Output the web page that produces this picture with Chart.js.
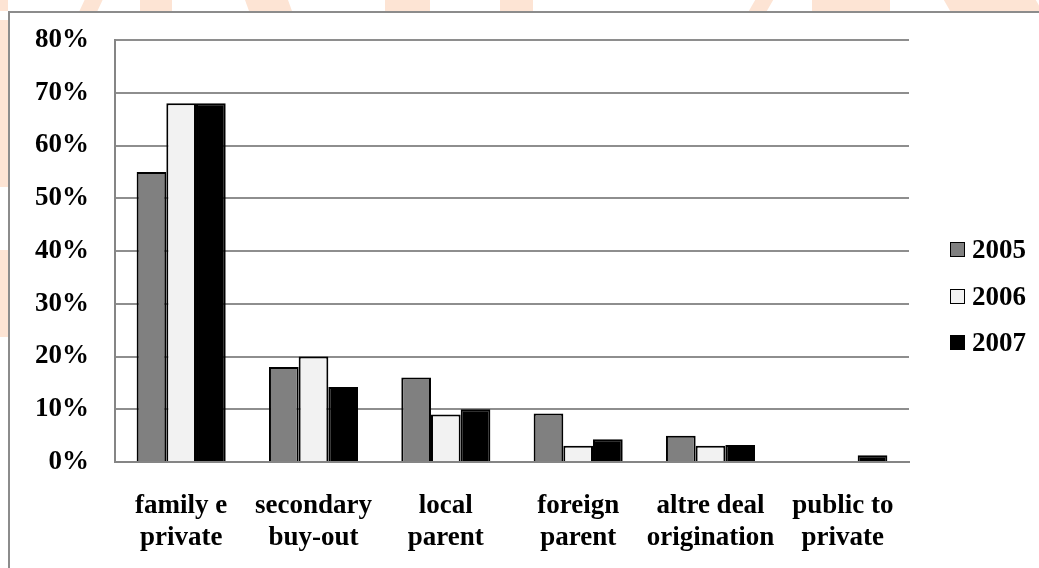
<!DOCTYPE html>
<html>
<head>
<meta charset="utf-8">
<script src="https://cdn.jsdelivr.net/npm/chart.js@4.4.1/dist/chart.umd.min.js"></script>
<style>
  html, body { margin: 0; padding: 0; width: 1039px; height: 568px; overflow: hidden; background: #fff; position: relative; }
  .wm { position: absolute; background: #fde4d4; }
  #frame { position: absolute; left: 8px; top: 11px; width: 1100px; height: 700px; border: 2px solid #8c8c8c; background: #fff; }
  #wrap { position: absolute; left: 10px; top: 13px; width: 1029px; height: 555px; }
  #legend { position: absolute; left: 950px; top: 0; font-family: 'Liberation Serif', 'Times New Roman', serif; font-weight: bold; font-size: 27px; color: #000; }
  #legend .item { position: absolute; left: 0; display: flex; align-items: center; height: 30px; white-space: nowrap; }
  #legend .box { width: 13px; height: 13px; border: 1px solid #000; margin-right: 7px; }
</style>
</head>
<body>
<!-- orange watermark bits peeking out round the chart frame -->
<div class="wm" style="left:0;top:0;width:8px;height:11px"></div>
<div class="wm" style="left:82px;top:0;width:18px;height:11px;transform:skewX(-25deg)"></div>
<div class="wm" style="left:140px;top:0;width:32px;height:11px"></div>
<div class="wm" style="left:247px;top:0;width:43px;height:11px;transform:skewX(20deg)"></div>
<div class="wm" style="left:385px;top:0;width:45px;height:11px"></div>
<div class="wm" style="left:500px;top:0;width:33px;height:11px"></div>
<div class="wm" style="left:752px;top:0;width:18px;height:11px;transform:skewX(-30deg)"></div>
<div class="wm" style="left:812px;top:0;width:78px;height:11px"></div>
<div class="wm" style="left:947px;top:0;width:92px;height:11px;transform:skewX(30deg)"></div>
<div class="wm" style="left:0;top:20px;width:8px;height:167px"></div>
<div class="wm" style="left:0;top:250px;width:8px;height:87px"></div>

<div id="frame"></div>
<div id="wrap"><canvas id="chart"></canvas></div>
<div id="legend"></div>

<script>
const categories = [
  ['family e', 'private'],
  ['secondary', 'buy-out'],
  ['local', 'parent'],
  ['foreign', 'parent'],
  ['altre deal', 'origination'],
  ['public to', 'private']
];
const seriesNames = ['2005', '2006', '2007'];
const values2005 = [55, 18, 16, 9.2, 5, 0];
const values2006 = [68, 20, 9, 3.1, 3.1, 0];
const values2007 = [68, 14.2, 10, 4.3, 3.2, 1.3];
const yTickValues = [0, 10, 20, 30, 40, 50, 60, 70, 80];

const fillColors = ['#808080', '#f2f2f2', '#000000'];
const labelFont = { family: "'Liberation Serif', 'Times New Roman', serif", weight: 'bold', size: 27, lineHeight: 1.15 };

const seriesValues = [values2005, values2006, values2007];

const chart = new Chart(document.getElementById('chart').getContext('2d'), {
  type: 'bar',
  data: {
    labels: categories,
    datasets: seriesNames.map((name, i) => ({
      label: name,
      data: seriesValues[i],
      backgroundColor: fillColors[i],
      borderColor: '#000',
      borderWidth: 2,
      barPercentage: 1,
      categoryPercentage: 0.673
    }))
  },
  options: {
    responsive: true,
    maintainAspectRatio: false,
    animation: false,
    layout: { padding: { top: 27, right: 130, left: 0, bottom: 0 } },
    plugins: {
      legend: { display: false },
      tooltip: { enabled: false }
    },
    scales: {
      x: {
        grid: { display: false, drawTicks: false },
        border: { display: true, color: '#858585', width: 2 },
        ticks: { color: '#000', font: labelFont, padding: 29, maxRotation: 0, autoSkip: false },
        afterFit: (scale) => { scale.height = 106; }
      },
      y: {
        min: 0,
        max: 80,
        afterBuildTicks: (scale) => { scale.ticks = yTickValues.map(v => ({ value: v })); },
        grid: { color: '#8e8e8e', lineWidth: 2, drawTicks: false },
        border: { display: true, color: '#858585', width: 2 },
        ticks: {
          color: '#000',
          font: labelFont,
          padding: 26,
          callback: (v) => v + '%'
        },
        afterFit: (scale) => {
          scale.width = 105;
          // tick padding would otherwise push the plot top down
          scale.paddingTop = 0;
          scale.paddingBottom = 0;
        }
      }
    }
  }
});

// legend as html, to the right of the plot
const legendTops = [234, 281, 327];
const legend = document.getElementById('legend');
seriesNames.forEach((name, i) => {
  const item = document.createElement('div');
  item.className = 'item';
  item.style.top = legendTops[i] + 'px';
  item.innerHTML = '<span class="box" style="background:' + fillColors[i] + '"></span><span>' + name + '</span>';
  legend.appendChild(item);
});
</script>
</body>
</html>
